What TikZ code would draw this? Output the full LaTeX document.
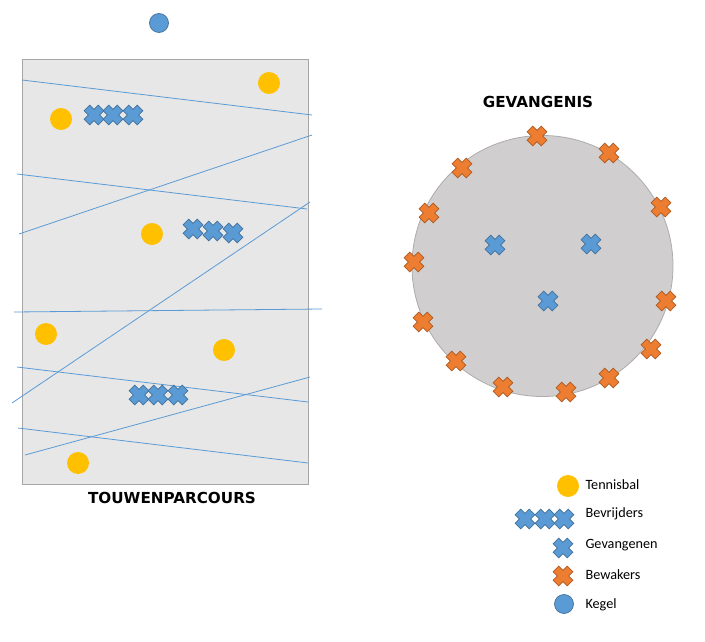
\documentclass[tikz,border=0pt]{standalone}
\usepackage{fontspec}
\setmainfont{Carlito}
\newfontfamily\titlefont{DejaVu Sans}
\usepackage{xcolor}
\definecolor{ropeblue}{HTML}{5B9BD5}
\definecolor{ropeedge}{HTML}{41719C}
\definecolor{guardor}{HTML}{ED7D31}
\definecolor{guardedge}{HTML}{AE5A21}
\definecolor{ballyel}{HTML}{FFC000}
\definecolor{fieldg}{HTML}{E7E7E7}
\definecolor{fieldedge}{HTML}{A6A6A6}
\definecolor{jailg}{HTML}{D0CECE}
\definecolor{jailedge}{HTML}{AFABAB}

\begin{document}
\begin{tikzpicture}[
    x=1pt, y=-1pt,
    xmark/.pic={\filldraw[pic actions, rotate=45]
        (-4,10) -- (4,10) -- (4,4) -- (10,4) -- (10,-4) -- (4,-4) --
        (4,-10) -- (-4,-10) -- (-4,-4) -- (-10,-4) -- (-10,4) -- (-4,4) -- cycle;},
    freer/.style={fill=ropeblue, draw=ropeedge, line width=0.6pt},
    guard/.style={fill=guardor, draw=guardedge, line width=0.6pt},
    ball/.style={circle, fill=ballyel, minimum size=22pt, inner sep=0pt},
    kegel/.style={circle, fill=ropeblue, draw=ropeedge, line width=0.7pt, minimum size=19pt, inner sep=0pt},
    rope/.style={ropeblue, line width=0.8pt},
    title/.style={font=\titlefont\bfseries\fontsize{15.2}{17}\selectfont},
    legend/.style={anchor=west, font=\fontsize{14.2}{16}\selectfont}
]
  \useasboundingbox (0,0) rectangle (705,642);

  % touwenparcours
  \filldraw[fill=fieldg, draw=fieldedge, line width=0.8pt] (22,59) rectangle (308,484);
  \node[kegel] (topkegel) at (159,23) {};
  \foreach \xa/\ya/\xb/\yb in {22/80/312/115, 19/234/312/135, 17/174/307/209,
      12/403/310/202, 14/312/322/309, 17/367/308/402, 25/455/310/377, 18/428/308/463}
    \draw[rope] (\xa,\ya) -- (\xb,\yb);
  \foreach \bx/\by [count=\i] in {269/83, 61/119, 152/234, 46/334, 224/350, 78/463}
    \node[ball] (ball\i) at (\bx,\by) {};
  \foreach \cx/\cy in {94/115, 113/115, 133/115, 193/229, 213/231, 233/233,
      139/395, 158/395, 178/395}
    \pic[freer] at (\cx,\cy) {xmark};
  \node[title] (parcours) at (172,498) {TOUWENPARCOURS};

  % gevangenis
  \node[title] (jailtitle) at (538,102) {GEVANGENIS};
  \filldraw[fill=jailg, draw=jailedge, line width=0.8pt] (542.5,266) circle[radius=130.5];
  \foreach \gx/\gy in {537/136, 609/153, 661/207, 666/301, 651/349, 609/378, 566/392,
      503/387, 456/361, 423/322, 414/262, 429/213, 462/168}
    \pic[guard] at (\gx,\gy) {xmark};
  \foreach \px/\py in {495/245, 591/244, 548/301}
    \pic[freer] at (\px,\py) {xmark};

  % legenda
  \node[ball] (legball) at (568,486) {};
  \node[legend] (legtennis) at (582,485) {Tennisbal};
  \foreach \cx in {525,545,564}
    \pic[freer] at (\cx,519) {xmark};
  \node[legend] (legfree) at (582,514) {Bevrijders};
  \pic[freer] at (563,548) {xmark};
  \node[legend] (legprison) at (582,545) {Gevangenen};
  \pic[guard] at (563,576) {xmark};
  \node[legend] (legguard) at (582,575) {Bewakers};
  \node[kegel] (legkegel) at (564,604) {};
  \node[legend] (legkeg) at (582,605) {Kegel};
\end{tikzpicture}
\end{document}
